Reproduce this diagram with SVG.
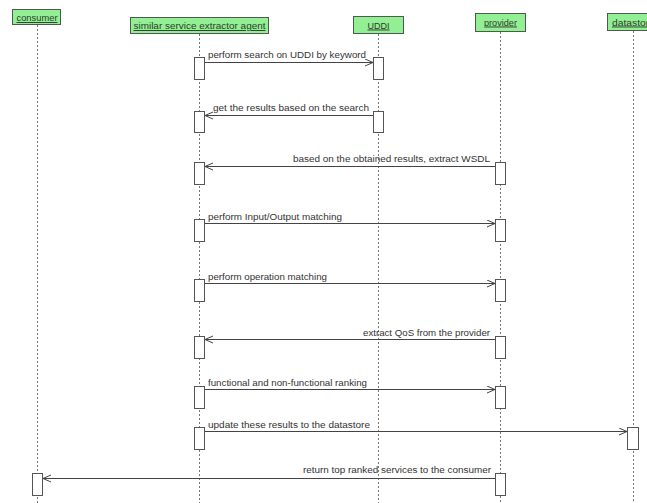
<svg xmlns="http://www.w3.org/2000/svg" width="647" height="503" viewBox="0 0 647 503">
<defs>
<style>
.hdr{fill:#93ef93;stroke:#4d5a4d;stroke-width:1}
.ht{font-family:"Liberation Sans",Arial,sans-serif;font-size:9.4px;fill:#2e3a2e;text-decoration:underline;text-anchor:middle}
.life{stroke:#777;stroke-width:1;stroke-dasharray:2,2;fill:none}
.act{fill:#fff;stroke:#555;stroke-width:1}
.msg{stroke:#444;stroke-width:1;fill:none}
.mt{font-family:"Liberation Sans",Arial,sans-serif;font-size:9.6px;fill:#333}
.end{text-anchor:end}
</style>
<marker id="ah" markerWidth="10" markerHeight="10" refX="8" refY="4" orient="auto" markerUnits="userSpaceOnUse">
<path d="M0,0.5 L8,4 L0,7.5" fill="none" stroke="#444" stroke-width="1"/>
</marker>
</defs>
<rect width="647" height="503" fill="#fff"/>

<g id="lifelines">
<line class="life" x1="37.5" y1="25" x2="37.5" y2="503"/>
<line class="life" x1="199.5" y1="34" x2="199.5" y2="503"/>
<line class="life" x1="378.5" y1="34" x2="378.5" y2="503"/>
<line class="life" x1="500.5" y1="32" x2="500.5" y2="503"/>
<line class="life" x1="633.5" y1="31" x2="633.5" y2="503"/>
</g>

<g id="consumer">
<rect class="hdr" x="12.5" y="9.5" width="48" height="15"/>
<text class="ht" x="37" y="21" textLength="41" lengthAdjust="spacingAndGlyphs">consumer</text>
<rect class="act" x="32.5" y="473.5" width="10" height="22"/>
</g>

<g id="agent">
<rect class="hdr" x="130.5" y="17.5" width="138" height="16"/>
<text class="ht" x="199.5" y="29" textLength="132" lengthAdjust="spacingAndGlyphs">similar service extractor agent</text>
<rect class="act" x="194.5" y="57.5" width="10" height="22"/>
<rect class="act" x="194.5" y="111.5" width="10" height="21"/>
<rect class="act" x="194.5" y="162.5" width="10" height="22"/>
<rect class="act" x="194.5" y="219.5" width="10" height="22"/>
<rect class="act" x="194.5" y="279.5" width="10" height="22"/>
<rect class="act" x="194.5" y="336.5" width="10" height="22"/>
<rect class="act" x="194.5" y="386.5" width="10" height="22"/>
<rect class="act" x="194.5" y="427.5" width="10" height="22"/>
</g>

<g id="uddi">
<rect class="hdr" x="353.5" y="16.5" width="50" height="17"/>
<text class="ht" x="378.5" y="28.5" textLength="22" lengthAdjust="spacingAndGlyphs">UDDI</text>
<rect class="act" x="373.5" y="57.5" width="10" height="22"/>
<rect class="act" x="373.5" y="111.5" width="10" height="21"/>
</g>

<g id="provider">
<rect class="hdr" x="475.5" y="13.5" width="50" height="18"/>
<text class="ht" x="500.5" y="25.5" textLength="33" lengthAdjust="spacingAndGlyphs">provider</text>
<rect class="act" x="495.5" y="162.5" width="10" height="22"/>
<rect class="act" x="495.5" y="219.5" width="10" height="22"/>
<rect class="act" x="495.5" y="279.5" width="10" height="22"/>
<rect class="act" x="495.5" y="336.5" width="10" height="22"/>
<rect class="act" x="495.5" y="386.5" width="10" height="22"/>
<rect class="act" x="495.5" y="473.5" width="10" height="22"/>
</g>

<g id="datastore">
<rect class="hdr" x="607.5" y="13.5" width="52" height="17"/>
<text class="ht" x="633.5" y="25.5" textLength="43" lengthAdjust="spacingAndGlyphs">datastore</text>
<rect class="act" x="627.5" y="427.5" width="11" height="22"/>
</g>

<g id="connectors">
<line class="msg" x1="205" y1="62.5" x2="373" y2="62.5" marker-end="url(#ah)"/>
<text class="mt" x="208" y="58" textLength="158" lengthAdjust="spacingAndGlyphs">perform search on UDDI by keyword</text>

<line class="msg" x1="373" y1="115.5" x2="205" y2="115.5" marker-end="url(#ah)"/>
<text class="mt" x="213" y="110.5" textLength="156" lengthAdjust="spacingAndGlyphs">get the results based on the search</text>

<line class="msg" x1="495" y1="166.5" x2="205" y2="166.5" marker-end="url(#ah)"/>
<text class="mt" x="293" y="161.5" textLength="197" lengthAdjust="spacingAndGlyphs">based on the obtained results, extract WSDL</text>

<line class="msg" x1="205" y1="223.5" x2="495" y2="223.5" marker-end="url(#ah)"/>
<text class="mt" x="208" y="220" textLength="134" lengthAdjust="spacingAndGlyphs">perform Input/Output matching</text>

<line class="msg" x1="205" y1="283.5" x2="495" y2="283.5" marker-end="url(#ah)"/>
<text class="mt" x="208" y="280" textLength="119" lengthAdjust="spacingAndGlyphs">perform operation matching</text>

<line class="msg" x1="495" y1="339.5" x2="205" y2="339.5" marker-end="url(#ah)"/>
<text class="mt" x="363" y="336" textLength="127" lengthAdjust="spacingAndGlyphs">extract QoS from the provider</text>

<line class="msg" x1="205" y1="389.5" x2="495" y2="389.5" marker-end="url(#ah)"/>
<text class="mt" x="208" y="386" textLength="159" lengthAdjust="spacingAndGlyphs">functional and non-functional ranking</text>

<line class="msg" x1="205" y1="431.5" x2="627" y2="431.5" marker-end="url(#ah)"/>
<text class="mt" x="208" y="427.5" textLength="162" lengthAdjust="spacingAndGlyphs">update these results to the datastore</text>

<line class="msg" x1="495" y1="478.5" x2="43" y2="478.5" marker-end="url(#ah)"/>
<text class="mt" x="303" y="473" textLength="188" lengthAdjust="spacingAndGlyphs">return top ranked services to the consumer</text>
</g>
</svg>
